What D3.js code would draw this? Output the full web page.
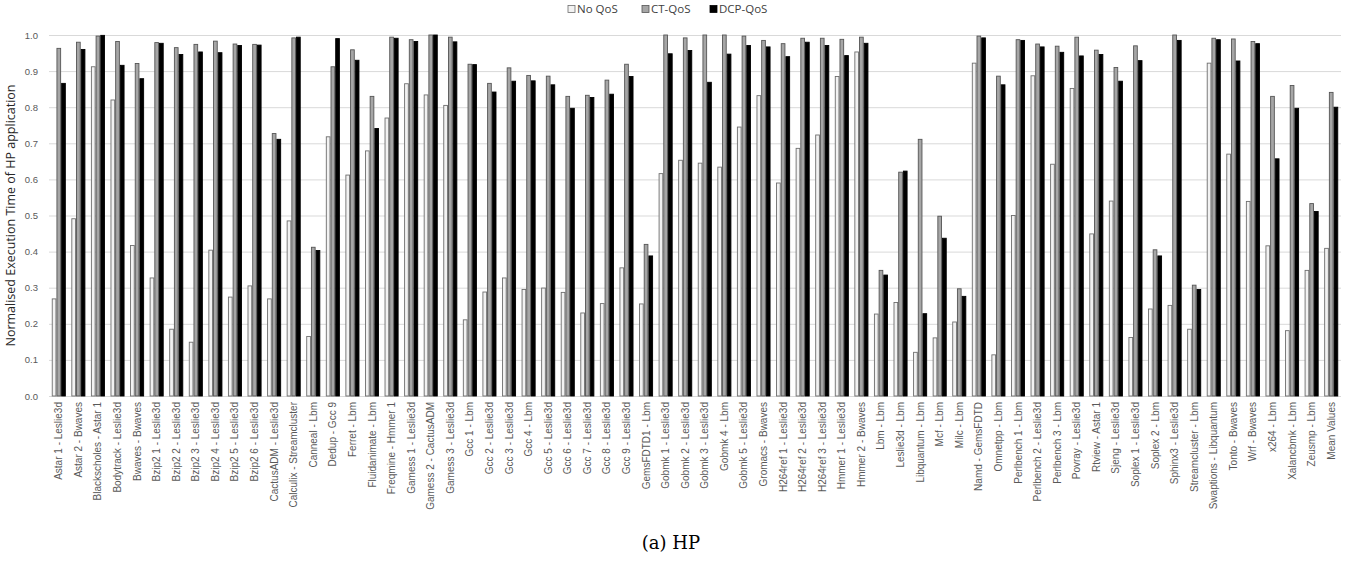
<!DOCTYPE html>
<html>
<head>
<meta charset="utf-8">
<script src="https://cdn.jsdelivr.net/npm/d3@7"></script>
<style>
  body { margin: 0; background: #fff; }
  svg { font-family: "Open Sans", "Noto Sans", sans-serif; }
</style>
</head>
<body>
<div id="chart"></div>
<script>
// Category labels (HP application - LP application)
const categories = [
  "Astar 1 - Leslie3d", "Astar 2 - Bwaves", "Blackscholes - Astar 1", "Bodytrack - Leslie3d",
  "Bwaves - Bwaves", "Bzip2 1 - Leslie3d", "Bzip2 2 - Leslie3d", "Bzip2 3 - Leslie3d",
  "Bzip2 4 - Leslie3d", "Bzip2 5 - Leslie3d", "Bzip2 6 - Leslie3d", "CactusADM - Leslie3d",
  "Calculix - Streamcluster", "Canneal - Lbm", "Dedup - Gcc 9", "Ferret - Lbm",
  "Fluidanimate - Lbm", "Freqmine - Hmmer 1", "Gamess 1 - Leslie3d", "Gamess 2 - CactusADM",
  "Gamess 3 - Leslie3d", "Gcc 1 - Lbm", "Gcc 2 - Leslie3d", "Gcc 3 - Leslie3d",
  "Gcc 4 - Lbm", "Gcc 5 - Leslie3d", "Gcc 6 - Leslie3d", "Gcc 7 - Leslie3d",
  "Gcc 8 - Leslie3d", "Gcc 9 - Leslie3d", "GemsFDTD1 - Lbm", "Gobmk 1 - Leslie3d",
  "Gobmk 2 - Leslie3d", "Gobmk 3 - Leslie3d", "Gobmk 4 - Lbm", "Gobmk 5 - Leslie3d",
  "Gromacs - Bwaves", "H264ref 1 - Leslie3d", "H264ref 2 - Leslie3d", "H264ref 3 - Leslie3d",
  "Hmmer 1 - Leslie3d", "Hmmer 2 - Bwaves", "Lbm - Lbm", "Leslie3d - Lbm",
  "Libquantum - Lbm", "Mcf - Lbm", "Milc - Lbm", "Namd - GemsFDTD",
  "Omnetpp - Lbm", "Perlbench 1 - Lbm", "Perlbench 2 - Leslie3d", "Perlbench 3 - Lbm",
  "Povray - Leslie3d", "Rtview - Astar 1", "Sjeng - Leslie3d", "Soplex 1 - Leslie3d",
  "Soplex 2 - Lbm", "Sphinx3 - Leslie3d", "Streamcluster - Lbm", "Swaptions - Libquantum",
  "Tonto - Bwaves", "Wrf - Bwaves", "x264 - Lbm", "Xalancbmk - Lbm",
  "Zeusmp - Lbm", "Mean Values"
];

const seriesNames = ["No QoS", "CT-QoS", "DCP-QoS"];

const noQos = [
  0.269, 0.491, 0.912, 0.820, 0.417, 0.327, 0.185, 0.149, 0.404, 0.274, 0.305, 0.269,
  0.485, 0.165, 0.718, 0.612, 0.679, 0.770, 0.865, 0.834, 0.805, 0.211, 0.288, 0.327,
  0.295, 0.299, 0.287, 0.230, 0.256, 0.355, 0.255, 0.616, 0.653, 0.645, 0.634, 0.745,
  0.832, 0.590, 0.686, 0.723, 0.885, 0.953, 0.227, 0.259, 0.121, 0.161, 0.205, 0.922,
  0.114, 0.500, 0.887, 0.642, 0.852, 0.449, 0.540, 0.162, 0.241, 0.251, 0.185, 0.922,
  0.670, 0.539, 0.416, 0.181, 0.348, 0.409
];

const ctQos = [
  0.963, 0.980, 0.997, 0.982, 0.921, 0.979, 0.965, 0.974, 0.983, 0.975, 0.974, 0.727,
  0.992, 0.412, 0.912, 0.959, 0.830, 0.994, 0.987, 1.000, 0.994, 0.919, 0.866, 0.909,
  0.888, 0.886, 0.830, 0.833, 0.875, 0.919, 0.420, 1.000, 0.992, 1.000, 1.000, 0.997,
  0.985, 0.976, 0.991, 0.991, 0.988, 0.994, 0.348, 0.620, 0.711, 0.498, 0.297, 0.997,
  0.886, 0.987, 0.975, 0.969, 0.994, 0.958, 0.910, 0.970, 0.405, 1.000, 0.307, 0.991,
  0.989, 0.982, 0.830, 0.860, 0.533, 0.841
];

const dcpQos = [
  0.866, 0.960, 0.999, 0.916, 0.879, 0.977, 0.946, 0.953, 0.951, 0.971, 0.972, 0.711,
  0.994, 0.403, 0.990, 0.930, 0.741, 0.991, 0.982, 1.000, 0.981, 0.918, 0.842, 0.872,
  0.873, 0.862, 0.797, 0.827, 0.836, 0.885, 0.388, 0.948, 0.957, 0.869, 0.947, 0.971,
  0.967, 0.940, 0.980, 0.971, 0.943, 0.977, 0.335, 0.623, 0.228, 0.437, 0.276, 0.992,
  0.862, 0.985, 0.967, 0.952, 0.942, 0.946, 0.872, 0.929, 0.388, 0.985, 0.295, 0.987,
  0.928, 0.976, 0.657, 0.797, 0.511, 0.800
];

const yTicks = [0, 0.1, 0.2, 0.3, 0.4, 0.5, 0.6, 0.7, 0.8, 0.9, 1.0];

const width = 1358, height = 566;
const plotLeft = 49, plotRight = 1341, plotTop = 35, plotBottom = 396;

const fills = ["#f2f2f2", "#a6a6a6", "#000000"];
const strokes = ["#6e6e6e", "#555555", "#000000"];

const table = categories.map((c, i) => ({
  name: c, values: [noQos[i], ctQos[i], dcpQos[i]]
}));

const svg = d3.select("#chart").append("svg")
  .attr("width", width)
  .attr("height", height);

const x = d3.scaleBand()
  .domain(categories)
  .range([plotLeft, plotRight])
  .paddingInner(0.28)
  .paddingOuter(0.14);

const x1 = d3.scaleBand()
  .domain(d3.range(seriesNames.length))
  .range([0, x.bandwidth()]);

const y = d3.scaleLinear().domain([0, 1]).range([plotBottom, plotTop]);

// gridlines + y labels
const yAxis = d3.axisLeft(y)
  .tickValues(yTicks)
  .tickSize(-(plotRight - plotLeft))
  .tickPadding(11)
  .tickFormat(d3.format(".1f"));

const gy = svg.append("g")
  .attr("transform", `translate(${plotLeft},0)`)
  .call(yAxis);
gy.select(".domain").remove();
gy.selectAll(".tick line").attr("stroke", "#d9d9d9").attr("stroke-width", 1);
gy.selectAll(".tick text")
  .attr("fill", "#595959")
  .style("font-size", "9.5px");

// bars
const groups = svg.append("g").selectAll("g")
  .data(table)
  .join("g")
  .attr("transform", d => `translate(${x(d.name)},0)`);

groups.selectAll("rect")
  .data(d => d.values.map((v, k) => ({ k, v })))
  .join("rect")
  .attr("x", d => x1(d.k) + 0.5)
  .attr("y", d => y(d.v))
  .attr("width", x1.bandwidth() - 1)
  .attr("height", d => plotBottom - y(d.v))
  .attr("fill", d => fills[d.k])
  .attr("stroke", d => strokes[d.k])
  .attr("stroke-width", 0.9);

// x labels
const xAxis = d3.axisBottom(x).tickSize(0).tickPadding(0);
const gx = svg.append("g")
  .attr("transform", `translate(0,${plotBottom})`)
  .call(xAxis);
gx.select(".domain").remove();
gx.selectAll(".tick text")
  .attr("fill", "#595959")
  .style("font-size", "10px")
  .attr("text-anchor", "end")
  .attr("transform", "rotate(-90)")
  .attr("x", -6)
  .attr("y", 0)
  .attr("dy", "0.35em");

// y axis title
svg.append("text")
  .attr("transform", `translate(15,${(plotTop + plotBottom) / 2}) rotate(-90)`)
  .attr("text-anchor", "middle")
  .attr("fill", "#262626")
  .style("font-size", "12.5px")
  .text("Normalised Execution Time of HP application");

// legend
const legendX = [568, 642, 710];
const legend = svg.append("g").selectAll("g")
  .data(seriesNames)
  .join("g")
  .attr("transform", (d, i) => `translate(${legendX[i]},5)`);
legend.append("rect")
  .attr("width", 7).attr("height", 7)
  .attr("y", 0.5)
  .attr("fill", (d, i) => fills[i])
  .attr("stroke", (d, i) => strokes[i])
  .attr("stroke-width", 0.8);
legend.append("text")
  .attr("x", 9)
  .attr("y", 4)
  .attr("dy", "0.35em")
  .attr("fill", "#404040")
  .style("font-size", "11.5px")
  .text(d => d);

// caption
svg.append("text")
  .attr("x", 671)
  .attr("y", 549)
  .attr("text-anchor", "middle")
  .attr("fill", "#000")
  .style("font-family", "'DejaVu Serif', 'Liberation Serif', serif")
  .style("font-size", "18px")
  .text("(a) HP");
</script>
</body>
</html>
